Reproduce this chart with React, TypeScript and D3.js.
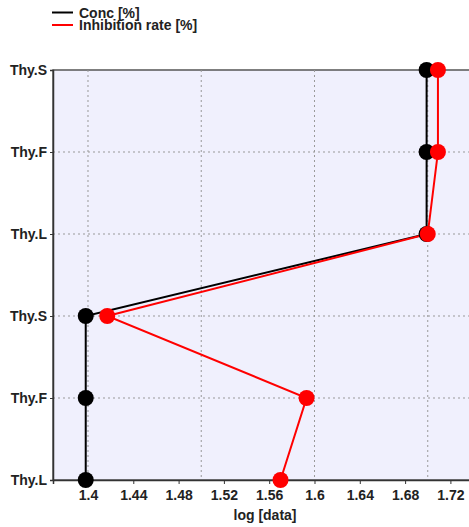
import React, { useEffect, useRef } from 'react';
import * as d3 from 'd3';

const categories: string[] = ['Thy.S', 'Thy.F', 'Thy.L', 'Thy.S', 'Thy.F', 'Thy.L'];
const concValues: number[] = [1.699, 1.699, 1.699, 1.398, 1.398, 1.398];
const inhibitionValues: number[] = [1.709, 1.709, 1.7, 1.417, 1.593, 1.57];
const xTicks: number[] = [1.4, 1.44, 1.48, 1.52, 1.56, 1.6, 1.64, 1.68, 1.72];
const xGrid: number[] = [1.4, 1.5, 1.6, 1.7];
const seriesNames: string[] = ['Conc [%]', 'Inhibition rate [%]'];
const seriesColors: string[] = ['#000000', '#ff0000'];

const App = () => {
  const ref = useRef<SVGSVGElement>(null);

  useEffect(() => {
    const svg = d3.select(ref.current);
    svg.selectAll('*').remove();

    const left = 53;
    const top = 70;
    const bottom = 480;
    const right = 500;
    const font = 'Arial, "Liberation Sans", sans-serif';
    const fs = 14;

    const x = d3.scaleLinear().domain([1.3691, 1.7638]).range([left, right]);
    const y = d3
      .scalePoint<number>()
      .domain(categories.map((_, i) => i))
      .range([top, bottom]);

    // Plot background
    svg
      .append('rect')
      .attr('x', left)
      .attr('y', top)
      .attr('width', right - left)
      .attr('height', bottom - top)
      .attr('fill', '#f0f0fd')
      .attr('stroke', '#555')
      .attr('stroke-width', 1.5);

    // Grid
    const grid = svg.append('g').attr('stroke', '#999').attr('stroke-dasharray', '2,3');
    grid
      .selectAll('.vg')
      .data(xGrid)
      .enter()
      .append('line')
      .attr('x1', (d) => x(d))
      .attr('x2', (d) => x(d))
      .attr('y1', top)
      .attr('y2', bottom);
    grid
      .selectAll('.hg')
      .data(categories.map((_, i) => i).slice(1, -1))
      .enter()
      .append('line')
      .attr('x1', left)
      .attr('x2', right)
      .attr('y1', (d) => y(d) || 0)
      .attr('y2', (d) => y(d) || 0);

    // Axes
    const xAxis = svg
      .append('g')
      .attr('transform', `translate(0,${bottom})`)
      .call(d3.axisBottom(x).tickValues(xTicks).tickSize(4).tickPadding(6).tickFormat((d) => String(d)));
    const yAxis = svg
      .append('g')
      .attr('transform', `translate(${left},0)`)
      .call(d3.axisLeft(y).tickSize(3).tickPadding(3).tickFormat((d) => categories[d as number]));
    [xAxis, yAxis].forEach((a) => {
      a.select('.domain').attr('stroke', '#333').attr('stroke-width', 1.5);
      a.selectAll('.tick line').attr('stroke', '#333');
      a.selectAll('text')
        .attr('font-family', font)
        .attr('font-weight', 'bold')
        .attr('font-size', fs)
        .attr('fill', '#222');
    });

    svg
      .append('text')
      .attr('x', 265)
      .attr('y', 520)
      .attr('text-anchor', 'middle')
      .attr('font-family', font)
      .attr('font-weight', 'bold')
      .attr('font-size', fs)
      .attr('fill', '#222')
      .text('log [data]');

    // Series
    const series = [concValues, inhibitionValues];
    const line = d3
      .line<number>()
      .x((d) => x(d))
      .y((_, i) => y(i) || 0);

    series.forEach((vals, s) => {
      svg
        .append('path')
        .attr('d', line(vals) || '')
        .attr('fill', 'none')
        .attr('stroke', seriesColors[s])
        .attr('stroke-width', 2);
    });
    series.forEach((vals, s) => {
      svg
        .selectAll(`.pt${s}`)
        .data(vals)
        .enter()
        .append('circle')
        .attr('cx', (d) => x(d))
        .attr('cy', (_, i) => y(i) || 0)
        .attr('r', 8)
        .attr('fill', seriesColors[s]);
    });

    // Legend
    const legend = svg
      .selectAll('.legend')
      .data(seriesNames)
      .enter()
      .append('g')
      .attr('transform', (_, i) => `translate(52,${12.5 + i * 12.5})`);
    legend
      .append('line')
      .attr('x1', 0)
      .attr('x2', 21)
      .attr('stroke', (_, i) => seriesColors[i])
      .attr('stroke-width', 2);
    legend
      .append('text')
      .attr('x', 27)
      .attr('y', 5)
      .attr('font-family', font)
      .attr('font-weight', 'bold')
      .attr('font-size', fs)
      .attr('fill', '#222')
      .text((d) => d);
  }, []);

  return (
    <svg
      ref={ref}
      width={469}
      height={527}
      style={{ position: 'absolute', left: 0, top: 0, overflow: 'hidden' }}
    />
  );
};

export default App;
